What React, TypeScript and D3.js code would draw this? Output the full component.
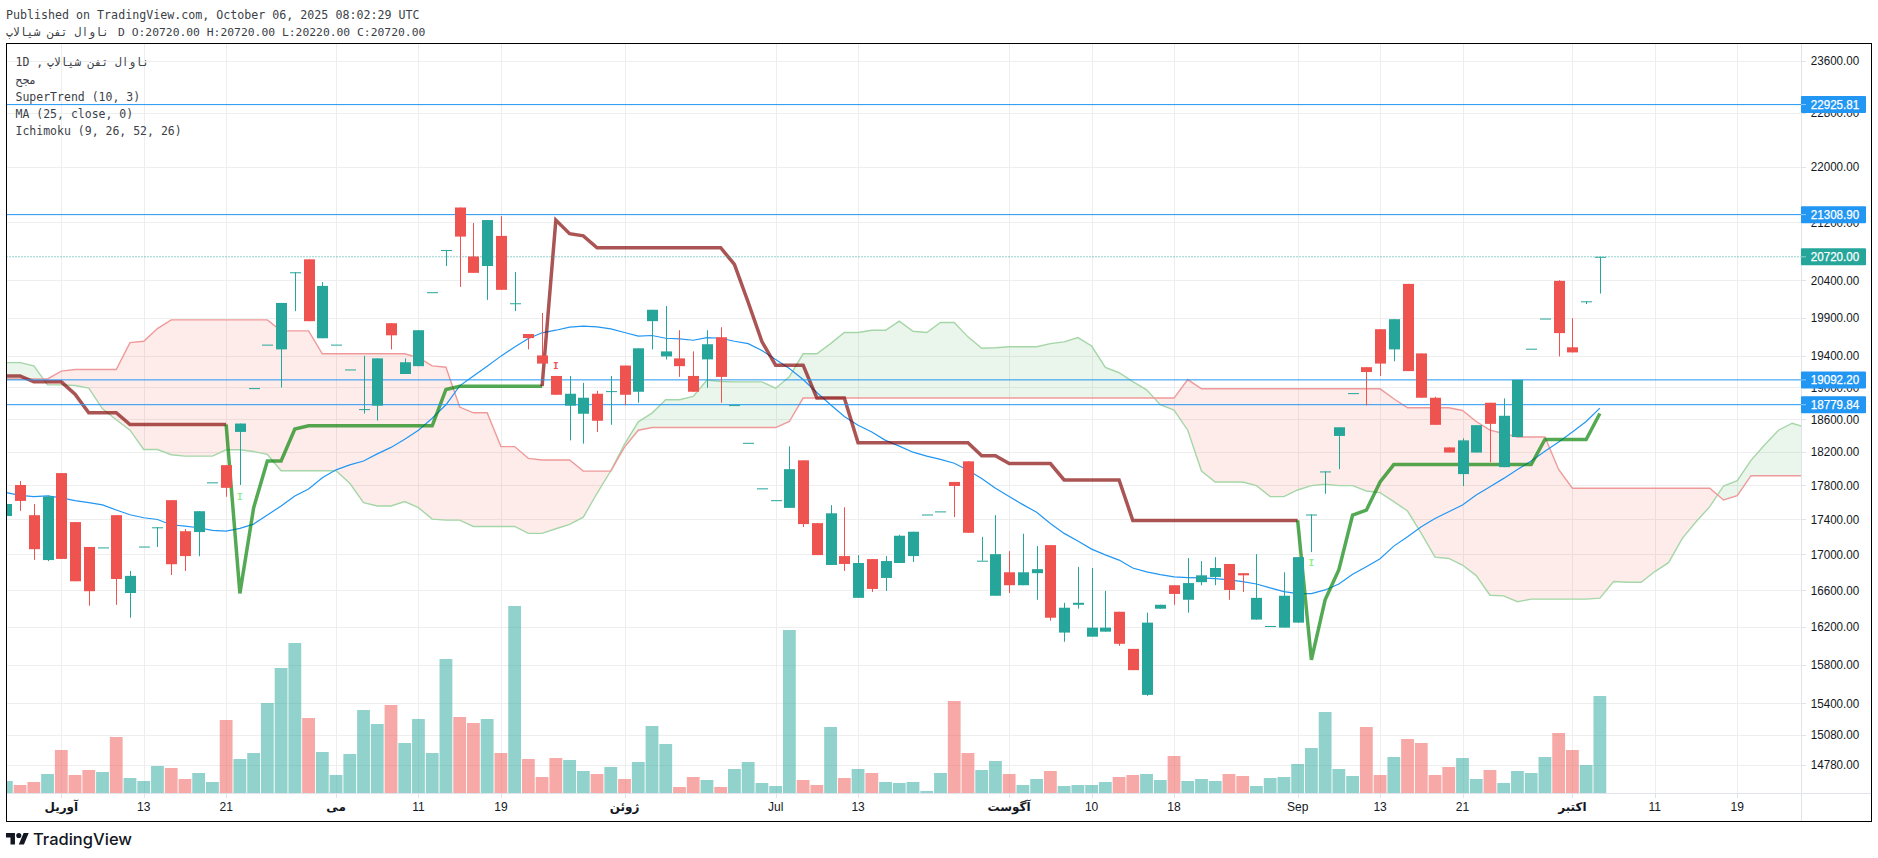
import * as d3 from "d3";

const firstBar = -4;

const opens = [
  17440, 17804, 17450, 16937,
  17945, 17370, 17085, 17080, 17450, 16570, 17090, 17310, 17625, 17265,
  17255, 17835, 18040, 18443, 18988, 19545, 19483, 20508, 20685, 19628,
  19545, 19225, 18725, 18767, 19825, 19167, 19267, 20238, 20813, 21410,
  20724, 20593, 21010, 20090, 19683, 19405, 19142, 18767, 18667, 18917,
  18950, 19275, 18942, 19852, 19392, 19367, 19142, 19354, 19641, 18775,
  18310, 17764, 17625, 17535, 18098, 17358, 16882, 16982, 16517, 16948,
  16737, 16904, 16982, 17458, 17494, 17840, 18086, 16930, 16540, 16800,
  16656, 16790, 17106, 16140, 16441, 16096, 16150, 16365, 15966, 15485,
  16398, 16656, 16496, 16690, 16748, 16893, 16790, 16280, 16211, 16193,
  16247, 17458, 17965, 18394, 18925, 19254, 19746, 19483, 20350, 19431,
  18867, 18254, 17933, 18192, 18804, 18016, 18380, 19492, 19887, 20391,
  19510, 20116, 20720,
];
const highs = [
  17580, 17850, 17580, 17680,
  17945, 17370, 17085, 17080, 17450, 16815, 17090, 17310, 17625, 17290,
  17496, 17835, 18040, 18546, 18988, 19545, 20094, 20508, 20685, 20373,
  19545, 19225, 19400, 19367, 19825, 19367, 19733, 20238, 20813, 21410,
  21190, 21232, 21287, 20512, 19683, 19960, 19142, 19142, 19054, 18954,
  19142, 19275, 19497, 20003, 20053, 19733, 19457, 19733, 19773, 18775,
  18310, 17764, 17625, 18267, 18098, 17358, 17567, 17542, 16993, 16948,
  16982, 17224, 17259, 17458, 17494, 17840, 18086, 17200, 17450, 17038,
  17236, 17095, 17106, 16463, 16860, 16848, 16593, 16365, 15966, 16355,
  16441, 16656, 16960, 16926, 16970, 16893, 16790, 17004, 16211, 16800,
  16970, 17458, 17965, 18500, 18925, 19254, 19746, 19878, 20350, 19431,
  18880, 18254, 18365, 18526, 18804, 18858, 19092, 19492, 19887, 20400,
  19891, 20116, 20720,
];
const lows = [
  17440, 17500, 16940, 16925,
  16950, 16700, 16430, 17080, 16440, 16300, 17090, 17085, 16770, 16815,
  16980, 17835, 17665, 17804, 18988, 19545, 18996, 19985, 19852, 19628,
  19545, 19225, 18670, 18583, 19483, 19167, 19267, 20238, 20593, 20310,
  20500, 20135, 20270, 19985, 19483, 19300, 18904, 18340, 18300, 18443,
  18530, 18771, 18804, 19483, 19353, 19130, 18942, 18992, 18804, 18775,
  18310, 17764, 17625, 17535, 17313, 16993, 16882, 16815, 16517, 16582,
  16593, 16904, 16915, 17458, 17494, 17428, 17247, 16930, 16540, 16570,
  16656, 16496, 16268, 16042, 16398, 16096, 16150, 15998, 15742, 15475,
  16398, 16441, 16355, 16656, 16656, 16496, 16582, 16280, 16211, 16193,
  16247, 17027, 17700, 17992, 18925, 18771, 19142, 19330, 19204, 18867,
  18530, 18192, 17792, 18192, 18075, 18016, 18380, 19492, 19887, 19391,
  19444, 20080, 20220,
];
const closes = [
  17580, 17616, 17060, 17667,
  16950, 16700, 16590, 17080, 16725, 16760, 17090, 17310, 16890, 16982,
  17496, 17835, 17770, 18546, 18988, 19545, 20094, 20508, 19852, 20323,
  19545, 19225, 18725, 19367, 19666, 19317, 19733, 20238, 20813, 21000,
  20500, 21232, 20270, 20090, 19630, 19300, 18904, 18917, 18867, 18580,
  18950, 18904, 19497, 20003, 19457, 19267, 18942, 19550, 19130, 18775,
  18310, 17764, 17625, 17992, 17347, 16993, 17472, 16893, 16904, 16615,
  16926, 17213, 17259, 17458, 17494, 17792, 17247, 16930, 17004, 16656,
  16800, 16835, 16300, 16409, 16463, 16193, 16193, 16020, 15742, 16247,
  16441, 16560, 16680, 16766, 16848, 16604, 16766, 16517, 16211, 16540,
  16970, 17458, 17965, 18500, 18925, 19192, 19300, 19878, 19204, 18867,
  18530, 18192, 18340, 18526, 18542, 18642, 19092, 19492, 19887, 19695,
  19444, 20116, 20720,
];
const volumes = [
  36, 24, 33, 57,
  129, 54, 69, 63, 168, 45, 36, 81, 75, 42,
  60, 33, 219, 102, 120, 270, 375, 450, 225, 123,
  54, 117, 249, 207, 264, 150, 222, 120, 402, 228,
  210, 222, 120, 561, 102, 48, 105, 99, 66, 57,
  78, 42, 93, 201, 147, 18, 48, 39, 18, 72,
  93, 30, 21, 489, 39, 24, 198, 45, 72, 60,
  33, 30, 33, 6, 60, 276, 120, 69, 96, 57,
  24, 42, 66, 21, 24, 24, 33, 48, 54, 57,
  39, 111, 36, 42, 36, 57, 51, 21, 45, 48,
  87, 135, 243, 72, 51, 198, 54, 108, 162, 150,
  54, 78, 105, 42, 69, 30, 66, 60, 108, 180,
  129, 84, 291,
];
const superTrend = [
  19142, 19142, 19067, 19067,
  19067, 18912, 18679, 18679, 18679, 18534, 18534, 18534, 18534, 18534,
  18534, 18534, 18534, 16566, 17535, 18090, 18090, 18478, 18518, 18518,
  18518, 18518, 18518, 18518, 18518, 18518, 18518, 18518, 18971, 19012,
  19012, 19012, 19012, 19012, 19012, 19012, 21232, 21040, 21010, 20845,
  20845, 20845, 20845, 20845, 20845, 20845, 20845, 20845, 20845, 20615,
  20103, 19584, 19280, 19280, 19280, 18863, 18863, 18863, 18312, 18312,
  18312, 18312, 18312, 18312, 18312, 18312, 18312, 18153, 18153, 18059,
  18059, 18059, 18059, 17863, 17863, 17863, 17863, 17863, 17389, 17389,
  17389, 17389, 17389, 17389, 17389, 17389, 17389, 17389, 17389, 17389,
  17389, 15850, 16496, 16828, 17450, 17508, 17840, 18047, 18047, 18047,
  18047, 18047, 18047, 18047, 18047, 18047, 18047, 18047, 18350, 18350,
  18350, 18350, 18670,
];
// bars where the SuperTrend changes side: up, down, up
const superTrendFlips = [13, 36, 91];
const movingAverage = [
  17714, 17682, 17667, 17675,
  17651, 17620, 17596, 17569, 17510, 17455, 17420, 17400, 17339, 17324,
  17305, 17274, 17267, 17297, 17347, 17451, 17557, 17675, 17757, 17890,
  17984, 18043, 18090, 18176, 18254, 18353, 18464, 18612, 18779, 19017,
  19142, 19267, 19396, 19514, 19624, 19699, 19733, 19773, 19787, 19778,
  19751, 19703, 19655, 19664, 19628, 19619, 19602, 19637, 19628, 19589,
  19558, 19470, 19354, 19238, 19096, 18933, 18779, 18633, 18526, 18443,
  18340, 18270, 18196, 18149, 18110, 18063, 17980, 17882, 17765, 17667,
  17573, 17483, 17354, 17240, 17152, 17061, 16996, 16937, 16848, 16804,
  16774, 16748, 16741, 16737, 16730, 16715, 16696, 16670, 16626, 16586,
  16564, 16564, 16604, 16670, 16778, 16863, 16952, 17095, 17202, 17316,
  17412, 17490, 17569, 17686, 17784, 17882, 17988, 18090, 18208, 18320,
  18443, 18571, 18737,
];
// Ichimoku spans run 15 bars past the last candle
const spanA = [
  19312, 19312, 19271, 19029,
  19029, 19021, 18987, 18729, 18592, 18464, 18229, 18229, 18165, 18149,
  18149, 18149, 18225, 18225, 18204, 18169, 17973, 17973, 17973, 17973,
  17973, 17824, 17596, 17557, 17557, 17608, 17537, 17404, 17393, 17393,
  17320, 17320, 17320, 17320, 17240, 17240, 17293, 17343, 17427, 17706,
  17973, 18295, 18567, 18675, 18841, 18841, 18883, 19091, 19071, 19067,
  19067, 19067, 18987, 19133, 19426, 19426, 19558, 19703, 19703, 19733,
  19733, 19852, 19720, 19703, 19834, 19834, 19646, 19497, 19505, 19518,
  19518, 19518, 19558, 19580, 19637, 19527, 19250, 19183, 19071, 18966,
  18779, 18712, 18464, 17969, 17839, 17839, 17839, 17796, 17667, 17667,
  17745, 17796, 17812, 17796, 17796, 17733, 17714, 17608, 17498, 17240,
  16970, 16955, 16881, 16763, 16546, 16539, 16474, 16503, 16503, 16503,
  16503, 16503, 16514, 16697, 16689, 16689, 16808, 16908, 17183, 17373,
  17549, 17792, 17855, 18098, 18287, 18464, 18550, 18497,
];
const spanB = [
  19104, 19104, 19104, 19104,
  19204, 19225, 19225, 19225, 19225, 19571, 19589, 19755, 19869, 19869,
  19869, 19869, 19869, 19869, 19869, 19869, 19724, 19724, 19724, 19426,
  19426, 19426, 19426, 19426, 19426, 19426, 19375, 19271, 19254, 18750,
  18679, 18679, 18264, 18264, 18122, 18102, 18102, 18102, 17969, 17969,
  17969, 18258, 18464, 18497, 18497, 18497, 18497, 18497, 18497, 18497,
  18497, 18497, 18497, 18571, 18863, 18863, 18863, 18863, 18863, 18863,
  18863, 18863, 18863, 18863, 18863, 18863, 18863, 18863, 18863, 18863,
  18863, 18863, 18863, 18863, 18863, 18863, 18863, 18863, 18863, 18863,
  18863, 18863, 19096, 18979, 18979, 18979, 18979, 18979, 18979, 18979,
  18979, 18979, 18979, 18979, 18979, 18979, 18979, 18854, 18742, 18742,
  18742, 18742, 18708, 18571, 18464, 18423, 18381, 18381, 18381, 17988,
  17765, 17765, 17765, 17765, 17765, 17765, 17765, 17765, 17765, 17765,
  17765, 17628, 17679, 17914, 17914, 17914, 17914, 17914,
];

const priceTicks = [
  23600, 22800, 22000, 21200, 20400, 19900, 19400, 19000, 18600, 18200,
  17800, 17400, 17000, 16600, 16200, 15800, 15400, 15080, 14780,
];
const levelLines = [22925.81, 21308.9, 19092.2, 18779.84];
const lastPrice = 20720;
const timeTicks = [0, 6, 12, 20, 26, 32, 41, 52, 58, 69, 75, 81, 90, 96, 102, 110, 116, 122];
const timeLabels = [
  "آوریل", "13", "21", "می", "11", "19", "ژوئن", "Jul", "13",
  "آگوست", "10", "18", "Sep", "13", "21", "اکتبر", "11", "19",
];
const boldMonths = ["آوریل", "می", "ژوئن", "آگوست", "اکتبر"];
const legendLines = ["مجح", "SuperTrend (10, 3)", "MA (25, close, 0)", "Ichimoku (9, 26, 52, 26)"];
const signalMarks = [
  { bar: 13, price: 17667, color: "#8df08d" },
  { bar: 36, price: 19271, color: "#ef5350" },
  { bar: 91, price: 16911, color: "#8df08d" },
];

const UP = "#26a69a";
const DOWN = "#ef5350";
const BLUE = "#2196f3";
const GRID = "#eeeeee";
const AXIS = "#e0e3eb";
const TEXT = "#131722";
const MONO = "'DejaVu Sans Mono', monospace";
const SANS = "'Liberation Sans', 'DejaVu Sans', sans-serif";

const W = 1878;
const H = 858;
const frame = { left: 6.5, top: 43.5, right: 1871.5, bottom: 821.5 };
const plotRight = 1801;
const volumeBase = 793;

const x = d3.scaleLinear().domain([0, 110]).range([61.3, 1572.4]);
const y = d3.scaleLog().domain([23600, 14780]).range([61, 765]);
const volumeY = d3.scaleLinear().domain([0, 561]).range([volumeBase, volumeBase - 187]);

const barAt = (i: number) => i + firstBar;
const bars = opens.map((open, i) => ({
  bar: barAt(i),
  open,
  high: highs[i],
  low: lows[i],
  close: closes[i],
  volume: volumes[i],
}));
const spans = spanA.map((a, i) => ({ bar: barAt(i), a, b: spanB[i] }));

type Pt = { bar: number; value: number };
const priceLine = d3
  .line<Pt>()
  .x((d) => x(d.bar))
  .y((d) => y(d.value));

const toPts = (values: number[]): Pt[] => values.map((value, i) => ({ bar: barAt(i), value }));

// a segment takes the colour of its end point, so each run starts one bar before the flip
const trendPts = toPts(superTrend);
const flipIdx = superTrendFlips.map((b) => b - firstBar);
const trendRuns = [
  { pts: trendPts.slice(0, flipIdx[0]), color: "rgba(128,0,0,0.67)" },
  { pts: trendPts.slice(flipIdx[0] - 1, flipIdx[1]), color: "rgba(0,128,0,0.67)" },
  { pts: trendPts.slice(flipIdx[1] - 1, flipIdx[2]), color: "rgba(128,0,0,0.67)" },
  { pts: trendPts.slice(flipIdx[2] - 1), color: "rgba(0,128,0,0.67)" },
];

const cloudArea = d3
  .area<(typeof spans)[0]>()
  .x((d) => x(d.bar))
  .y0((d) => y(d.a))
  .y1((d) => y(d.b));
const aboveB = d3
  .area<(typeof spans)[0]>()
  .x((d) => x(d.bar))
  .y0(0)
  .y1((d) => y(d.b));
const belowB = d3
  .area<(typeof spans)[0]>()
  .x((d) => x(d.bar))
  .y0(H)
  .y1((d) => y(d.b));

function AxisPrice({ py, text, fill, heavy }: { py: number; text: string; fill: string; heavy?: boolean }) {
  return (
    <text
      x={plotRight + 34}
      y={py + 4.4}
      textAnchor="middle"
      fontFamily={SANS}
      fontSize={12.4}
      textLength={48.5}
      lengthAdjust="spacingAndGlyphs"
      fill={fill}
      stroke={heavy ? fill : "none"}
      strokeWidth={heavy ? 0.25 : 0}
    >
      {text}
    </text>
  );
}

function PriceLabel({ price, text, fill }: { price: number; text: string; fill: string }) {
  const py = y(price);
  return (
    <g>
      <rect x={plotRight} y={py - 8.5} width={65} height={17} rx={1} fill={fill} />
      <line x1={plotRight} x2={plotRight + 5} y1={py} y2={py} stroke="#ffffff" opacity={0.5} />
      <AxisPrice py={py} text={text} fill="#ffffff" heavy />
    </g>
  );
}

export default function App() {
  return (
    <svg
      width={W}
      height={H}
      viewBox={`0 0 ${W} ${H}`}
      style={{ position: "fixed", left: 0, top: 0, background: "#ffffff" }}
    >
      <defs>
        <clipPath id="plot">
          <rect x={frame.left} y={frame.top} width={plotRight - frame.left} height={volumeBase - frame.top} />
        </clipPath>
        <clipPath id="above-b">
          <path d={aboveB(spans) ?? ""} />
        </clipPath>
        <clipPath id="below-b">
          <path d={belowB(spans) ?? ""} />
        </clipPath>
      </defs>

      {/* header */}
      <text x={6} y={19} fontFamily={MONO} fontSize={11.65} fill="#3c3f48">
        Published on TradingView.com, October 06, 2025 08:02:29 UTC
      </text>
      <text x={6} y={36} fontFamily={MONO} fontSize={11.4} fill="#3c3f48" direction="rtl" textAnchor="end">
        ناوال تفن شیالاپ
      </text>
      <text x={118} y={36} fontFamily={MONO} fontSize={11.35} fill="#3c3f48">
        D O:20720.00 H:20720.00 L:20220.00 C:20720.00
      </text>

      {/* grid */}
      <g stroke={GRID} strokeWidth={1}>
        {priceTicks.map((p) => (
          <line key={p} x1={frame.left} x2={plotRight} y1={Math.round(y(p)) + 0.5} y2={Math.round(y(p)) + 0.5} />
        ))}
        {timeTicks.map((b) => (
          <line key={b} x1={Math.round(x(b)) + 0.5} x2={Math.round(x(b)) + 0.5} y1={frame.top} y2={volumeBase} />
        ))}
      </g>

      <g clipPath="url(#plot)">
        {/* Ichimoku cloud */}
        <g clipPath="url(#above-b)">
          <path d={cloudArea(spans) ?? ""} fill="rgba(67,160,71,0.11)" />
        </g>
        <g clipPath="url(#below-b)">
          <path d={cloudArea(spans) ?? ""} fill="rgba(244,67,54,0.1)" />
        </g>
        <path
          d={priceLine(spans.map((d) => ({ bar: d.bar, value: d.a }))) ?? ""}
          fill="none"
          stroke="#a5d6a7"
          strokeWidth={1.4}
        />
        <path
          d={priceLine(spans.map((d) => ({ bar: d.bar, value: d.b }))) ?? ""}
          fill="none"
          stroke="#ef9a9a"
          strokeWidth={1.4}
        />

        {/* moving average */}
        <path d={priceLine(toPts(movingAverage)) ?? ""} fill="none" stroke={BLUE} strokeWidth={1.2} />

        {/* SuperTrend */}
        {trendRuns.map((run, i) => (
          <path key={i} d={priceLine(run.pts) ?? ""} fill="none" stroke={run.color} strokeWidth={3.5} />
        ))}

        {/* volume */}
        {bars.map((d) => (
          <rect
            key={d.bar}
            x={x(d.bar) - 6.4}
            y={volumeY(d.volume)}
            width={12.8}
            height={volumeBase - volumeY(d.volume)}
            fill={d.close < d.open ? DOWN : UP}
            opacity={0.5}
          />
        ))}

        {/* horizontal levels */}
        <line
          x1={frame.left}
          x2={plotRight}
          y1={y(lastPrice)}
          y2={y(lastPrice)}
          stroke={UP}
          strokeDasharray="1 2"
        />
        {levelLines.map((p) => (
          <line key={p} x1={frame.left} x2={plotRight} y1={y(p)} y2={y(p)} stroke={BLUE} strokeWidth={1} />
        ))}

        {/* candles */}
        {bars.map((d) => {
          const color = d.close < d.open ? DOWN : UP;
          const top = y(Math.max(d.open, d.close));
          const bottom = y(Math.min(d.open, d.close));
          const cx = x(d.bar);
          return (
            <g key={d.bar} fill={color} stroke="none">
              <rect x={Math.round(cx)} y={y(d.high)} width={1} height={y(d.low) - y(d.high)} />
              <rect x={Math.round(cx) - 5} y={top} width={11} height={Math.max(bottom - top, 1)} />
            </g>
          );
        })}

        {signalMarks.map((m) => (
          <text
            key={m.bar}
            x={x(m.bar)}
            y={y(m.price) + 3.5}
            textAnchor="middle"
            fontFamily={MONO}
            fontSize={9.5}
            fontWeight={700}
            fill={m.color}
          >
            I
          </text>
        ))}
      </g>

      {/* axes */}
      <line x1={plotRight + 0.5} x2={plotRight + 0.5} y1={frame.top} y2={frame.bottom} stroke={AXIS} />
      <line x1={frame.left} x2={frame.right} y1={volumeBase + 0.5} y2={volumeBase + 0.5} stroke={AXIS} />
      {priceTicks.map((p) => (
        <g key={p}>
          <line x1={plotRight} x2={plotRight + 5} y1={Math.round(y(p)) + 0.5} y2={Math.round(y(p)) + 0.5} stroke={AXIS} />
          <AxisPrice py={y(p)} text={p.toFixed(2)} fill={TEXT} />
        </g>
      ))}
      {timeTicks.map((b, i) => (
        <g key={b}>
          <line x1={Math.round(x(b)) + 0.5} x2={Math.round(x(b)) + 0.5} y1={volumeBase} y2={volumeBase + 5} stroke={AXIS} />
          <text
            x={x(b)}
            y={811}
            textAnchor="middle"
            fontFamily={SANS}
            fontSize={12}
            fontWeight={boldMonths.includes(timeLabels[i]) ? 700 : 400}
            fill={TEXT}
          >
            {timeLabels[i]}
          </text>
        </g>
      ))}

      {/* price labels sit over the tick text */}
      {levelLines.map((p) => (
        <PriceLabel key={p} price={p} text={p.toFixed(2)} fill={BLUE} />
      ))}
      <PriceLabel price={lastPrice} text={lastPrice.toFixed(2)} fill={UP} />

      {/* legend */}
      <text x={15.5} y={66} fontFamily={MONO} fontSize={11.5} fill="#3c3f48">
        {"1D ,"}
      </text>
      <text x={47} y={66} fontFamily={MONO} fontSize={11.3} fill="#3c3f48" direction="rtl" textAnchor="end">
        ناوال تفن شیالاپ
      </text>
      {legendLines.map((t, i) => (
        <text key={t} x={15.5} y={84 + i * 17} fontFamily={MONO} fontSize={11.5} fill="#3c3f48">
          {t}
        </text>
      ))}

      {/* frame */}
      <rect
        x={frame.left}
        y={frame.top}
        width={frame.right - frame.left}
        height={frame.bottom - frame.top}
        fill="none"
        stroke="#000000"
        strokeWidth={1}
      />

      {/* footer logo */}
      <g transform="translate(6,830.4) scale(0.64)" fill={TEXT}>
        <path d="M14 22H7V11H0V4h14v18zM28 22h-8l7.5-18h8L28 22z" />
        <circle cx={20} cy={8} r={4} />
      </g>
      <text x={33} y={845} fontFamily="Inter, Roboto, sans-serif" fontSize={16.5} fontWeight={500} fill={TEXT}>
        TradingView
      </text>
    </svg>
  );
}
